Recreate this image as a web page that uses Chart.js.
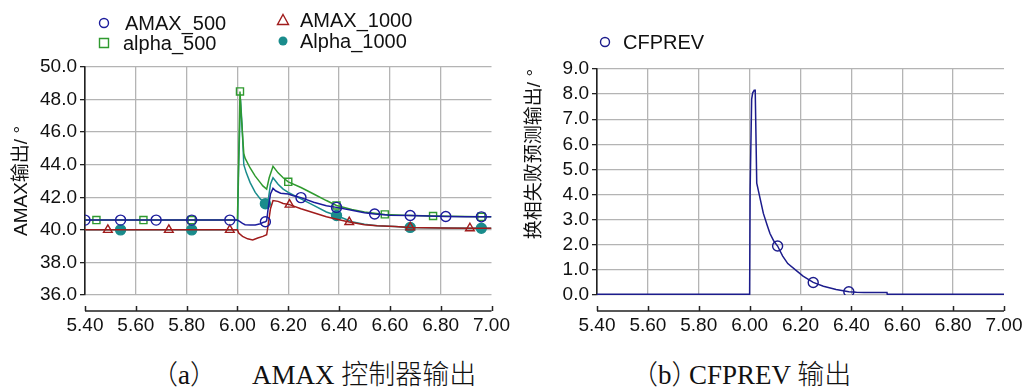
<!DOCTYPE html>
<html>
<head>
<meta charset="utf-8">
<script src="https://cdn.jsdelivr.net/npm/chart.js@4"></script>
<style>
    body { margin: 0; background: #fff; width: 1026px; height: 392px; position: relative; overflow: hidden; }
    .box { position: absolute; top: 0; height: 350px; }
    #boxA { left: 0; width: 510px; }
    #boxB { left: 510px; width: 516px; }
    .cap { position: absolute; top: 362px; line-height: 27px; font-size: 27px; font-family: "Liberation Serif", "Noto Sans CJK SC", serif; font-weight: 300; color: #111; white-space: pre; }
</style>
</head>
<body>
<div class="box" id="boxA"><canvas class="chart_a"></canvas></div>
<div class="box" id="boxB"><canvas class="chart_b"></canvas></div>
<div class="cap" style="left:151px">（a）</div>
<div class="cap" style="left:252px">AMAX 控制器输出</div>
<div class="cap" style="left:631px">（b）</div>
<div class="cap" style="left:689px">CFPREV 输出</div>
<script>
// x axis ticks
const xTicks = [5.4, 5.6, 5.8, 6.0, 6.2, 6.4, 6.6, 6.8, 7.0];

// AMAX_500
const amax500T = [5.40, 5.54, 5.68, 5.82, 5.97, 6.00, 6.01, 6.02, 6.03, 6.05, 6.07, 6.09, 6.10, 6.11, 6.115, 6.12, 6.13, 6.14, 6.15, 6.17, 6.20, 6.22, 6.25, 6.30, 6.35, 6.39, 6.45, 6.50, 6.54, 6.60, 6.68, 6.75, 6.82, 6.90, 6.96, 7.00];
const amax500V = [40.6, 40.6, 40.6, 40.6, 40.6, 40.6, 40.5, 40.4, 40.32, 40.3, 40.3, 40.38, 40.45, 40.5, 40.55, 41.2, 42.2, 42.55, 42.4, 42.25, 42.2, 42.1, 41.98, 41.7, 41.48, 41.38, 41.2, 41.05, 40.97, 40.9, 40.88, 40.85, 40.82, 40.8, 40.8, 40.8];
const amax500Marks = [5.40, 5.54, 5.68, 5.82, 5.97, 6.11, 6.25, 6.39, 6.54, 6.68, 6.82, 6.96];

// alpha_500
const alpha500T = [5.40, 5.445, 5.63, 5.82, 6.00, 6.005, 6.01, 6.015, 6.025, 6.03, 6.05, 6.07, 6.09, 6.10, 6.115, 6.125, 6.14, 6.16, 6.18, 6.20, 6.25, 6.30, 6.35, 6.39, 6.45, 6.50, 6.58, 6.65, 6.77, 6.96, 7.00];
const alpha500V = [40.6, 40.6, 40.6, 40.6, 40.6, 44.5, 48.5, 47.0, 44.7, 44.4, 43.8, 43.3, 42.9, 42.7, 42.5, 43.2, 43.9, 43.5, 43.2, 42.95, 42.6, 42.2, 41.8, 41.5, 41.25, 41.1, 40.95, 40.9, 40.85, 40.8, 40.8];
const alpha500Marks = [5.445, 5.63, 5.82, 6.01, 6.20, 6.39, 6.58, 6.77, 6.96];

// AMAX_1000
const amax1000T = [5.40, 5.49, 5.73, 5.97, 6.00, 6.005, 6.02, 6.04, 6.06, 6.08, 6.10, 6.115, 6.12, 6.13, 6.14, 6.16, 6.18, 6.205, 6.25, 6.30, 6.35, 6.40, 6.44, 6.50, 6.55, 6.62, 6.68, 6.80, 6.915, 7.00];
const amax1000V = [40.0, 40.0, 40.0, 40.0, 40.0, 39.8, 39.6, 39.45, 39.38, 39.5, 39.6, 39.7, 40.2, 41.3, 41.8, 41.75, 41.62, 41.55, 41.3, 41.05, 40.8, 40.62, 40.48, 40.32, 40.25, 40.2, 40.15, 40.12, 40.1, 40.1];
const amax1000Marks = [5.49, 5.73, 5.97, 6.205, 6.44, 6.68, 6.915];

// Alpha_1000
const alpha1000T = [5.40, 5.54, 5.82, 6.00, 6.005, 6.012, 6.018, 6.025, 6.035, 6.05, 6.07, 6.09, 6.11, 6.12, 6.13, 6.14, 6.16, 6.18, 6.20, 6.25, 6.30, 6.35, 6.39, 6.45, 6.50, 6.55, 6.62, 6.68, 6.80, 6.96, 7.00];
const alpha1000V = [40.0, 40.0, 40.0, 40.0, 44.0, 48.0, 46.5, 44.0, 43.5, 42.9, 42.3, 41.9, 41.6, 41.7, 42.8, 43.2, 42.8, 42.5, 42.3, 41.9, 41.5, 41.1, 40.88, 40.5, 40.35, 40.25, 40.2, 40.15, 40.12, 40.1, 40.1];
const alpha1000Marks = [5.54, 5.82, 6.11, 6.39, 6.68, 6.96];

// CFPREV
const cfT = [5.40, 5.96, 6.00, 6.002, 6.008, 6.012, 6.018, 6.022, 6.028, 6.04, 6.054, 6.07, 6.08, 6.095, 6.11, 6.13, 6.15, 6.185, 6.21, 6.25, 6.29, 6.34, 6.39, 6.42, 6.45, 6.54, 6.541, 7.00];
const cfV = [0.03, 0.03, 0.03, 4.2, 7.8, 8.05, 8.15, 8.15, 4.45, 3.9, 3.25, 2.75, 2.45, 2.15, 1.95, 1.55, 1.25, 0.96, 0.75, 0.5, 0.35, 0.22, 0.13, 0.11, 0.1, 0.1, 0.03, 0.03];
const cfMarks = [6.11, 6.25, 6.39];

const FONT = "Liberation Sans";
const GRID = "#b4b4b4";

function pts(t, v) {
    return t.map(function(x, k) { return {x: x, y: v[k]}; });
}

function mkSet(label, t, v, marks, color, style, filled) {
    return {
        label: label,
        data: pts(t, v),
        borderColor: color,
        borderWidth: 1.5,
        tension: 0,
        pointStyle: style,
        pointBorderColor: color,
        pointBorderWidth: 1.4,
        pointBackgroundColor: filled ? color : "rgba(0,0,0,0)",
        pointRadius: function(c) {
            const p = c.raw;
            return p && marks.indexOf(p.x) >= 0 ? 5 : 0;
        },
        pointHoverRadius: 0
    };
}

// legend drawn on the canvas, two columns
function legendPlugin(items) {
    return {
        id: "legend2",
        afterDraw: function(chart) {
            const c = chart.ctx;
            c.save();
            c.font = "20px " + FONT;
            c.textBaseline = "middle";
            items.forEach(function(it) {
                c.strokeStyle = it.color;
                c.fillStyle = it.color;
                c.lineWidth = 1.4;
                c.beginPath();
                if (it.style === "circle") {
                    c.arc(it.x, it.y, 4.5, 0, Math.PI * 2);
                    if (it.filled) c.fill(); else c.stroke();
                } else if (it.style === "rect") {
                    c.rect(it.x - 4.5, it.y - 4.5, 9, 9);
                    c.stroke();
                } else {
                    c.moveTo(it.x, it.y - 5.5);
                    c.lineTo(it.x + 5.5, it.y + 4.5);
                    c.lineTo(it.x - 5.5, it.y + 4.5);
                    c.closePath();
                    c.stroke();
                }
                c.fillStyle = "#111";
                c.fillText(it.text, it.tx, it.y + 1);
            });
            c.restore();
        }
    };
}

// x axis line sits a bit below the plot
const xAxisLine = {
    id: "xline",
    afterDraw: function(chart) {
        const c = chart.ctx;
        const a = chart.chartArea;
        const sx = chart.scales.x;
        const y = a.bottom + 16;
        c.save();
        c.strokeStyle = "#222";
        c.lineWidth = 1.5;
        c.beginPath();
        c.moveTo(a.left, y);
        c.lineTo(a.right, y);
        xTicks.forEach(function(v) {
            const px = Math.round(sx.getPixelForValue(v)) + 0.5;
            c.moveTo(px, y);
            c.lineTo(px, y - 5);
        });
        c.stroke();
        c.restore();
    }
};

function mkOptions(ymin, ymax, ystep, ytitle, yalign, titlePad, padRight, padTop, yWidth) {
    return {
        responsive: true,
        maintainAspectRatio: false,
        animation: false,
        layout: { padding: { left: 0, right: padRight, top: padTop, bottom: 0 } },
        plugins: { legend: { display: false }, tooltip: { enabled: false } },
        scales: {
            x: {
                type: "linear",
                min: 5.4,
                max: 7.0,
                afterBuildTicks: function(s) { s.ticks = xTicks.map(function(v) { return {value: v}; }); },
                afterFit: function(s) { s.height = 55; },
                ticks: {
                    autoSkip: false,
                    maxRotation: 0,
                    padding: 0,
                    color: "#111",
                    font: { family: FONT, size: 19 },
                    callback: function(v) { return Number(v).toFixed(2); }
                },
                grid: {
                    color: function(c) { return c.tick && c.tick.value >= 7 ? "rgba(0,0,0,0)" : GRID; },
                    lineWidth: 1.3,
                    drawTicks: true,
                    tickLength: 19,
                    tickColor: "rgba(0,0,0,0)"
                },
                border: { display: false }
            },
            y: {
                min: ymin,
                max: ymax,
                afterFit: function(s) { s.width = yWidth; },
                ticks: {
                    stepSize: ystep,
                    autoSkip: false,
                    padding: 3,
                    color: "#111",
                    font: { family: FONT, size: 19 },
                    callback: function(v) { return Number(v).toFixed(1); }
                },
                grid: { color: GRID, lineWidth: 1.3, tickColor: "#222", tickLength: 5 },
                border: { color: "#222", width: 1.6 },
                title: {
                    display: true,
                    text: ytitle,
                    align: yalign,
                    color: "#111",
                    padding: { top: titlePad, bottom: 0 },
                    font: { family: FONT + ", Noto Sans CJK SC", size: 19 }
                }
            }
        }
    };
}

window.onload = function() {
    const ctx = document.querySelector(".chart_a");
    const chart_a = new Chart(ctx, {
        type: "line",
        data: {
            datasets: [
                mkSet("AMAX_500", amax500T, amax500V, amax500Marks, "#1c1c9c", "circle", false),
                mkSet("AMAX_1000", amax1000T, amax1000V, amax1000Marks, "#a01c1c", "triangle", false),
                mkSet("alpha_500", alpha500T, alpha500V, alpha500Marks, "#2f9a2f", "rect", false),
                mkSet("Alpha_1000", alpha1000T, alpha1000V, alpha1000Marks, "#1a8c8c", "circle", true)
            ]
        },
        options: mkOptions(36, 50, 2, "AMAX输出/ °", "center", 10, 18, 67, 85),
        plugins: [xAxisLine, legendPlugin([
            {x: 104, y: 23, tx: 125, text: "AMAX_500", color: "#1c1c9c", style: "circle"},
            {x: 104, y: 43, tx: 123, text: "alpha_500", color: "#2f9a2f", style: "rect"},
            {x: 283, y: 20, tx: 300, text: "AMAX_1000", color: "#a01c1c", style: "triangle"},
            {x: 283, y: 41, tx: 300, text: "Alpha_1000", color: "#1a8c8c", style: "circle", filled: true}
        ])]
    });

    const ctx2 = document.querySelector(".chart_b");
    const chart_b = new Chart(ctx2, {
        type: "line",
        data: {
            datasets: [
                mkSet("CFPREV", cfT, cfV, cfMarks, "#1c1c8c", "circle", false)
            ]
        },
        options: mkOptions(0, 9, 1, "换相失败预测输出/ °", "end", 13, 22, 69, 87),
        plugins: [xAxisLine, legendPlugin([
            {x: 95, y: 42, tx: 113, text: "CFPREV", color: "#1c1c8c", style: "circle"}
        ])]
    });
};
</script>
</body>
</html>
